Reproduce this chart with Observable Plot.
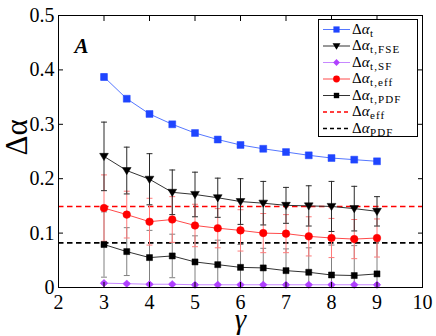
<!DOCTYPE html>
<html><head><meta charset="utf-8">
<script src="https://cdn.jsdelivr.net/npm/d3@7"></script>
<script src="https://cdn.jsdelivr.net/npm/@observablehq/plot@0.6"></script>
<style>
body{margin:0;background:#fff;}
#wrap{position:relative;width:436px;height:336px;}
#legend{position:absolute;left:0;top:0;}
</style></head><body><div id="wrap"></div>
<script>
// ---- data ----
const gamma = [3, 3.5, 4, 4.5, 5, 5.5, 6, 6.5, 7, 7.5, 8, 8.5, 9];
const dAlphaT      = [0.387, 0.347, 0.319, 0.300, 0.284, 0.272, 0.262, 0.255, 0.249, 0.243, 0.238, 0.235, 0.232];
const dAlphaTErr   = [0.006, 0.004, 0.004, 0.003, 0.003, 0.003, 0.002, 0.002, 0.002, 0.002, 0.002, 0.002, 0.002];
const dAlphaFSE    = [0.241, 0.215, 0.199, 0.175, 0.171, 0.165, 0.158, 0.155, 0.151, 0.150, 0.149, 0.145, 0.140];
const dAlphaFSEErr = [0.063, 0.043, 0.047, 0.041, 0.041, 0.036, 0.042, 0.040, 0.033, 0.037, 0.046, 0.041, 0.027];
const dAlphaSF     = [0.008, 0.007, 0.006, 0.006, 0.005, 0.005, 0.005, 0.005, 0.005, 0.005, 0.005, 0.005, 0.005];
const dAlphaSFErr  = [0.002, 0.002, 0.002, 0.002, 0.002, 0.002, 0.002, 0.002, 0.002, 0.002, 0.002, 0.002, 0.002];
const dAlphaTEff   = [0.146, 0.134, 0.121, 0.125, 0.114, 0.109, 0.105, 0.100, 0.099, 0.094, 0.091, 0.089, 0.091];
const dAlphaTEffErr= [0.061, 0.043, 0.043, 0.042, 0.039, 0.036, 0.038, 0.036, 0.035, 0.036, 0.036, 0.036, 0.035];
const dAlphaTPDF   = [0.079, 0.066, 0.055, 0.058, 0.047, 0.042, 0.037, 0.036, 0.031, 0.028, 0.023, 0.022, 0.025];
const dAlphaTPDFErr= [0.060, 0.044, 0.050, 0.040, 0.048, 0.045, 0.042, 0.036, 0.040, 0.045, 0.055, 0.055, 0.060];
const dAlphaEff = 0.149;
const dAlphaPDF = 0.082;
const xTicks = [2, 3, 4, 5, 6, 7, 8, 9, 10];
const yTicks = [0, 0.1, 0.2, 0.3, 0.4, 0.5];
const legendSubs = ["t", "t,FSE", "t,SF", "t,eff", "t,PDF", "eff", "PDF"];

const FONT = "Liberation Serif";

// ---- styles ----
const triDown = {draw(ctx, size) {
  const r = Math.sqrt(size / Math.PI);
  ctx.moveTo(-r * 1.15, -r * 0.8); ctx.lineTo(r * 1.15, -r * 0.8); ctx.lineTo(0, r * 1.1); ctx.closePath();
}};
const series = [
  {key: "t",     v: dAlphaT,    e: dAlphaTErr,    fill: "#1f45ff", line: "#5577ff", err: "#8ea2ff", symbol: d3.symbolSquare,   r: 3.9},
  {key: "t,FSE", v: dAlphaFSE,  e: dAlphaFSEErr,  fill: "#000000", line: "#333333", err: "#2a2a2a", symbol: triDown,          r: 3.8},
  {key: "t,SF",  v: dAlphaSF,   e: dAlphaSFErr,   fill: "#b040ff", line: "#c688ff", err: "#c688ff", symbol: d3.symbolDiamond2, r: 3.4},
  {key: "t,eff", v: dAlphaTEff, e: dAlphaTEffErr, fill: "#ff0000", line: "#ff4a4a", err: "#ff7a7a", symbol: d3.symbolCircle,   r: 3.8},
  {key: "t,PDF", v: dAlphaTPDF, e: dAlphaTPDFErr, fill: "#000000", line: "#333333", err: "#808080", symbol: d3.symbolSquare,   r: 3.4}
];
const errOrder = [4, 3, 1, 0, 2];
const rowsOf = s => gamma.map((g, i) => ({x: g, y: s.v[i], e: s.e[i]}));

const marks = [];
marks.push(Plot.ruleY([dAlphaEff], {stroke: "#ff0000", strokeWidth: 1.6, strokeDasharray: "5.5,3.5"}));
marks.push(Plot.ruleY([dAlphaPDF], {stroke: "#000000", strokeWidth: 1.6, strokeDasharray: "5.5,3.5"}));
for (const k of errOrder) {
  const s = series[k], rows = rowsOf(s);
  marks.push(Plot.ruleX(rows, {x: "x", y1: d => d.y - d.e, y2: d => d.y + d.e, stroke: s.err, strokeWidth: 1, clip: true}));
  marks.push(Plot.link(rows, {x1: d => d.x - 0.065, x2: d => d.x + 0.065, y1: d => d.y + d.e, y2: d => d.y + d.e, stroke: s.err, strokeWidth: 1}));
  marks.push(Plot.link(rows.filter(d => d.y - d.e >= 0), {x1: d => d.x - 0.065, x2: d => d.x + 0.065, y1: d => d.y - d.e, y2: d => d.y - d.e, stroke: s.err, strokeWidth: 1}));
}
for (const s of series) {
  marks.push(Plot.line(rowsOf(s), {x: "x", y: "y", stroke: s.line, strokeWidth: 1}));
}
for (const s of series) {
  marks.push(Plot.dot(rowsOf(s), {x: "x", y: "y", symbol: s.symbol, r: s.r, fill: s.fill, stroke: s.fill, strokeWidth: 0.5}));
}

const fmtY = d => d === 0 ? "0" : d3.format(".1f")(d);
marks.push(Plot.frame({stroke: "black", strokeWidth: 1}));
marks.push(Plot.axisX({ticks: xTicks, tickSize: -5, tickPadding: 12, tickFormat: d => String(d), label: null, fontFamily: FONT}));
marks.push(Plot.axisX({anchor: "top", ticks: xTicks, tickSize: -5, tickFormat: () => "", label: null}));
marks.push(Plot.axisY({ticks: yTicks, tickSize: -5, tickPadding: 9, tickFormat: fmtY, label: null, fontFamily: FONT}));
marks.push(Plot.axisY({anchor: "right", ticks: yTicks, tickSize: -5, tickFormat: () => "", label: null}));
marks.push(Plot.text(["Δα"], {frameAnchor: "left", text: d => d, rotate: -90, dx: -32, dy: 4, lineAnchor: "bottom", fontSize: 31, fontFamily: FONT}));
marks.push(Plot.text(["γ"], {frameAnchor: "bottom", text: d => d, dy: 41, lineAnchor: "bottom", fontSize: 29, fontStyle: "italic", fontFamily: FONT}));
marks.push(Plot.text(["A"], {frameAnchor: "top-left", text: d => d, dx: 16, dy: 37, textAnchor: "start", lineAnchor: "bottom", fontSize: 21, fontStyle: "italic", fontWeight: "bold", fontFamily: FONT}));

const chart = Plot.plot({
  width: 436, height: 336,
  marginLeft: 58, marginRight: 14, marginTop: 15, marginBottom: 49,
  x: {domain: [2, 10]},
  y: {domain: [0, 0.5]},
  style: {fontFamily: FONT, fontSize: "20px", background: "white", color: "black", overflow: "visible"},
  marks
});
const wrap = document.getElementById("wrap");
wrap.appendChild(chart);

// ---- legend overlay ----
const lg = d3.select(wrap).append("svg").attr("id", "legend").attr("width", 436).attr("height", 336)
  .attr("font-family", FONT);
lg.append("rect").attr("x", 318.5).attr("y", 19.5).attr("width", 99).attr("height", 117)
  .attr("fill", "white").attr("stroke", "black").attr("stroke-width", 1);
const legendStyles = [
  ...series.map(s => ({stroke: s.line, fill: s.fill, symbol: s.symbol, r: s.r, dash: null})),
  {stroke: "#ff0000", dash: "4,3"},
  {stroke: "#000000", dash: "4,3"}
];
legendSubs.forEach((sub, i) => {
  const y = 29.5 + i * 16.5, st = legendStyles[i];
  lg.append("line").attr("x1", 323).attr("x2", 350).attr("y1", y).attr("y2", y)
    .attr("stroke", st.stroke).attr("stroke-width", st.dash ? 1.5 : 1).attr("stroke-dasharray", st.dash);
  if (st.symbol) {
    lg.append("path").attr("transform", `translate(336.5,${y})`)
      .attr("d", d3.symbol(st.symbol, Math.PI * st.r * st.r * 0.8)()).attr("fill", st.fill);
  }
  const t = lg.append("text").attr("x", 352).attr("y", y + 4).attr("font-size", 15);
  t.append("tspan").text("Δ");
  t.append("tspan").attr("font-style", "italic").text("α");
  lg.append("text").attr("x", 370).attr("y", y + 7).attr("font-size", 11).attr("letter-spacing", 1.1).text(sub);
});
</script></body></html>
